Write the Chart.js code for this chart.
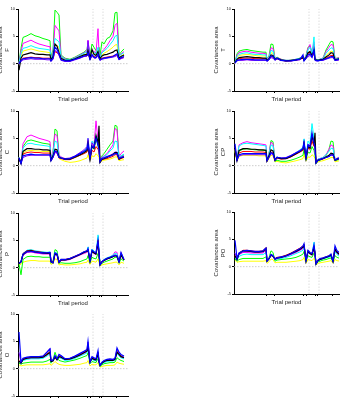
<!DOCTYPE html>
<html>
<head>
<meta charset="utf-8">
<script src="https://cdn.jsdelivr.net/npm/chart.js@4.4.0/dist/chart.umd.min.js"></script>
<style>
  html, body { margin: 0; padding: 0; background: #fff; }
  body { width: 344px; height: 399px; position: relative; overflow: hidden; }
  canvas { position: absolute; }
</style>
</head>
<body>
<script>
// shared time axis (trial period samples)
const trialX = [1,3,5,9,13,17,21,25,29,32,33,35,37,39,41,43,47,52,57,62,66,69,70,72,74,76,78,80,81,82,84,86,89,92,95,97,99,101,103,106];
const xTicks = [32,40,69,72,81,83,98];
const markerX = [75,85];
const yTicks = [-5,0,5,10];

const colorNames = ['blue','black','purple','red','cyan','magenta','green','yellow'];
const lineColors = {
  yellow: '#ffff00', green: '#00ff00', cyan: '#00ffff', magenta: '#ff00ff',
  red: '#ff0000', black: '#000000', blue: '#0000ff', purple: '#8000ff'
};

// F
const fGreen   = [0.2,2.8,4.8,5.1,5.5,5.1,4.9,4.6,4.4,4.2,1.2,2.5,9.8,9.4,8.9,1.6,1.0,0.8,1.2,1.7,2.1,2.6,3.8,1.4,3.6,3.0,2.4,2.0,3.0,1.5,4.0,3.6,4.6,4.9,6.0,9.3,9.4,1.6,2.1,2.7];
const fMagenta = [0.1,2.2,3.7,4.0,4.3,3.9,3.6,3.4,3.2,3.1,1.0,2.0,7.0,6.5,6.0,1.4,0.9,0.7,1.1,1.6,2.0,2.3,4.3,1.3,2.5,2.2,2.0,6.4,2.0,1.2,2.2,2.6,3.3,4.2,5.0,7.0,7.4,1.4,1.8,2.2];
const fCyan    = [0.1,1.8,2.8,3.0,3.3,3.0,2.8,2.7,2.6,2.5,0.9,1.8,4.6,4.3,4.0,1.3,0.8,0.7,1.0,1.5,1.9,2.1,3.5,1.2,2.3,2.0,1.8,3.0,1.8,1.1,2.0,2.3,2.8,3.5,4.2,5.0,5.2,1.3,1.7,2.0];
const fYellow  = [0.1,1.4,2.3,2.5,2.7,2.5,2.3,2.2,2.1,2.0,0.8,1.5,3.5,3.3,3.0,1.1,0.7,0.6,0.9,1.3,1.7,1.8,2.8,1.1,2.0,1.8,1.6,2.5,1.6,1.0,1.6,1.9,2.2,2.6,3.0,3.4,3.5,1.1,1.4,1.7];
const fBlack   = [-1.2,1.0,1.6,1.8,2.0,1.8,1.7,1.7,1.6,1.6,0.7,1.3,3.6,3.2,2.0,1.0,0.6,0.6,0.9,1.3,1.6,1.7,2.4,1.0,2.6,1.7,1.5,2.2,1.5,0.9,1.4,1.6,1.7,1.9,2.1,2.4,2.5,1.0,1.3,1.6];
const fRed     = [0.1,0.6,1.0,1.1,1.2,1.1,1.1,1.0,1.0,1.0,0.5,0.9,2.2,2.0,1.6,0.8,0.5,0.5,0.8,1.1,1.4,1.4,1.8,0.8,1.5,1.3,1.2,1.6,1.2,0.8,1.0,1.1,1.2,1.3,1.4,1.5,1.6,0.8,1.0,1.2];
const fBlue    = [0.0,0.6,0.9,1.0,1.1,1.0,1.0,0.9,0.9,0.9,0.5,1.0,3.0,2.6,1.8,0.7,0.5,0.5,0.8,1.1,1.4,1.5,2.0,0.8,1.7,1.2,1.1,1.8,1.1,0.7,0.9,1.0,1.1,1.2,1.3,1.6,1.8,0.8,1.1,1.3];
const fPurple  = [0.0,0.4,0.7,0.8,0.9,0.8,0.8,0.8,0.7,0.7,0.4,0.8,2.4,2.2,1.5,0.6,0.4,0.4,0.7,1.0,1.3,1.4,4.2,0.7,1.4,1.0,1.0,1.4,0.9,0.6,0.8,0.9,1.0,1.1,1.2,1.3,1.5,0.7,0.9,1.1];

// T
const tGreen   = [0.2,1.8,2.3,2.5,2.6,2.4,2.3,2.2,2.1,2.1,0.8,1.4,3.6,3.5,0.9,1.2,0.8,0.6,0.6,0.8,1.0,1.3,0.8,1.5,3.0,3.2,2.0,3.6,0.9,0.8,0.7,0.8,1.0,2.5,3.5,4.1,4.0,0.9,1.0,1.1];
const tMagenta = [0.2,1.5,2.0,2.2,2.3,2.1,2.0,1.9,1.9,1.8,0.8,1.2,2.9,2.8,0.9,1.1,0.8,0.6,0.6,0.8,1.0,1.3,0.8,1.4,2.8,3.5,1.8,4.0,0.9,0.8,0.7,0.8,1.0,2.2,3.0,3.5,3.4,0.9,1.0,1.1];
const tCyan    = [0.2,1.3,1.7,1.9,2.0,1.8,1.7,1.7,1.6,1.6,0.7,1.1,2.4,2.3,0.8,1.1,0.7,0.6,0.6,0.8,1.0,1.2,0.8,1.3,2.5,3.0,1.7,4.9,0.9,0.8,0.7,0.8,0.9,1.9,2.5,2.9,2.8,0.8,0.9,1.0];
const tYellow  = [0.2,1.1,1.5,1.6,1.7,1.6,1.5,1.4,1.4,1.4,0.7,1.0,2.0,1.9,0.8,1.0,0.7,0.5,0.6,0.7,0.9,1.1,0.7,1.2,2.0,2.2,1.5,2.6,0.8,0.7,0.6,0.7,0.8,1.5,2.0,2.3,2.2,0.8,0.9,1.0];
const tBlack   = [0.2,0.8,1.1,1.2,1.3,1.2,1.1,1.1,1.0,1.0,0.6,0.9,1.6,1.5,0.8,1.0,0.7,0.5,0.6,0.7,0.9,1.1,0.7,1.1,2.0,2.2,1.5,2.4,0.8,0.7,0.6,0.7,0.8,1.2,1.6,2.0,1.9,0.7,0.8,0.9];
const tRed     = [0.1,0.7,0.9,1.0,1.0,1.0,0.9,0.9,0.9,0.9,0.5,0.8,1.3,1.2,0.7,0.9,0.6,0.5,0.5,0.7,0.8,1.0,0.6,1.0,1.6,2.2,1.3,1.8,0.7,0.6,0.6,0.6,0.7,1.0,1.3,1.5,1.5,0.7,0.7,0.8];
const tBlue    = [0.1,0.6,0.7,0.8,0.8,0.8,0.7,0.7,0.7,0.7,0.5,0.8,1.4,1.3,0.7,1.0,0.6,0.5,0.5,0.7,0.8,1.6,0.5,1.0,1.6,1.8,1.2,2.6,0.7,0.6,0.5,0.6,0.7,0.9,1.1,1.3,1.3,0.6,0.7,0.8];
const tPurple  = [0.1,0.5,0.6,0.6,0.7,0.6,0.6,0.6,0.6,0.6,0.4,0.7,1.1,1.0,0.6,0.9,0.6,0.5,0.5,0.6,0.7,1.4,0.5,0.9,1.3,1.5,1.1,2.0,0.6,0.5,0.5,0.6,0.6,0.8,1.0,1.1,1.1,0.6,0.6,0.7];

// C
const cMagenta = [1.5,0.5,4.0,5.3,5.6,5.3,5.0,4.8,4.6,4.4,1.2,2.5,5.8,5.5,2.0,1.6,1.3,1.3,1.7,2.2,2.7,3.2,4.5,1.5,4.2,3.6,8.2,4.5,3.0,0.8,1.6,1.8,2.2,3.0,3.8,6.8,6.5,1.6,2.2,2.7];
const cGreen   = [1.5,0.5,3.5,4.5,4.7,4.5,4.3,4.1,4.0,3.9,1.2,2.5,6.7,6.4,1.8,1.5,1.2,1.2,1.5,1.9,2.3,2.6,3.5,1.3,3.5,3.0,5.0,3.6,2.5,0.7,1.8,2.2,3.0,3.8,4.5,7.4,7.2,1.4,1.8,2.0];
const cCyan    = [1.5,0.5,3.2,4.0,4.1,3.9,3.8,3.7,3.6,3.5,1.1,2.2,4.5,4.3,1.7,1.5,1.2,1.3,1.7,2.2,2.7,3.2,5.0,1.4,4.5,4.0,5.5,4.8,2.8,0.7,1.5,1.7,2.0,2.7,3.2,4.5,4.4,1.5,1.8,2.1];
const cBlack   = [1.4,0.4,2.6,3.1,3.1,3.0,3.0,2.9,2.9,2.8,1.0,1.8,3.0,2.9,1.6,1.4,1.2,1.2,1.6,2.0,2.4,2.8,4.0,1.2,3.6,3.2,5.5,4.0,7.3,0.6,1.2,1.3,1.5,1.8,2.0,2.4,2.4,1.2,1.4,1.6];
const cYellow  = [1.3,0.4,2.3,2.7,2.8,2.7,2.7,2.6,2.6,2.6,0.9,1.6,2.6,2.5,1.3,1.1,0.8,0.6,0.7,0.9,1.2,1.4,2.0,0.8,1.8,1.6,2.2,1.8,1.5,0.5,0.9,1.0,1.1,1.2,1.4,1.6,1.6,0.9,1.0,1.1];
const cRed     = [1.4,0.4,2.1,2.4,2.5,2.4,2.4,2.3,2.3,2.3,0.9,1.5,2.5,2.4,1.4,1.3,1.1,1.1,1.5,1.9,2.2,2.5,3.2,1.1,2.8,2.5,3.5,3.0,2.5,0.6,1.1,1.2,1.3,1.5,1.7,2.0,2.0,1.1,1.3,1.5];
const cBlue    = [1.4,0.4,1.8,2.0,2.1,2.0,2.0,2.0,2.0,2.0,0.9,1.6,2.7,2.5,1.5,1.4,1.2,1.3,1.7,2.2,2.6,3.0,4.0,1.3,3.6,3.3,5.0,3.8,3.0,0.7,1.3,1.4,1.6,1.8,2.0,2.2,2.2,1.3,1.5,1.6];
const cPurple  = [1.3,0.4,1.5,1.8,1.9,1.9,1.9,1.9,1.9,1.9,0.9,1.5,2.4,2.3,1.5,1.4,1.3,1.4,1.8,2.4,2.9,3.5,5.0,1.4,4.2,3.6,5.2,4.2,3.2,0.8,1.4,1.5,1.7,1.9,2.2,2.5,2.5,1.4,1.6,1.8];

// CP
const cpMagenta = [3.0,1.0,3.8,4.2,4.4,4.2,4.1,4.0,3.9,3.8,1.0,2.2,4.3,4.0,1.0,1.6,1.3,1.3,1.7,2.3,2.8,3.2,4.6,1.6,3.8,3.6,5.5,4.5,3.0,0.6,1.2,1.3,1.5,2.0,3.0,3.8,3.6,1.1,1.4,1.6];
const cpCyan    = [3.0,1.0,3.6,4.0,4.1,4.0,3.9,3.8,3.7,3.6,1.0,2.1,3.8,3.6,1.0,1.6,1.3,1.4,1.8,2.4,2.9,3.4,4.9,1.6,4.5,4.0,7.7,5.0,3.2,0.6,1.2,1.3,1.5,2.0,2.6,3.2,3.1,1.1,1.3,1.5];
const cpGreen   = [2.8,0.9,2.7,3.0,3.1,3.0,2.9,2.9,2.8,2.8,0.9,2.2,4.6,4.4,0.8,1.0,0.8,0.8,1.0,1.3,1.6,1.9,3.0,1.0,2.5,2.3,3.5,2.8,1.8,0.4,0.9,1.0,1.3,1.8,3.0,4.5,4.4,0.9,1.0,1.2];
const cpBlack   = [3.2,1.0,2.8,3.1,3.1,3.0,3.0,2.9,2.9,2.8,0.9,1.8,2.9,2.7,1.0,1.5,1.3,1.3,1.7,2.2,2.6,3.0,4.0,1.4,3.5,3.2,5.5,4.0,6.0,0.5,1.0,1.1,1.3,1.6,1.9,2.3,2.2,1.0,1.2,1.4];
const cpRed     = [3.0,0.9,2.3,2.6,2.6,2.6,2.5,2.5,2.5,2.4,0.8,1.6,2.5,2.3,0.9,1.4,1.2,1.3,1.6,2.1,2.5,2.8,3.6,1.3,3.2,3.0,4.5,3.5,3.5,0.5,1.0,1.1,1.2,1.5,1.7,2.0,2.0,1.0,1.1,1.3];
const cpYellow  = [2.6,0.8,1.7,1.9,1.9,1.9,1.9,1.8,1.8,1.8,0.7,1.3,1.9,1.8,0.7,0.8,0.6,0.5,0.7,0.9,1.1,1.3,2.0,0.8,1.6,1.5,2.0,1.7,1.3,0.4,0.7,0.8,0.9,1.1,1.3,1.5,1.5,0.7,0.8,0.9];
const cpBlue    = [4.0,1.0,2.0,2.2,2.2,2.2,2.2,2.2,2.2,2.2,0.9,1.6,2.4,2.2,1.0,1.5,1.4,1.4,1.8,2.3,2.7,3.1,4.2,1.4,3.8,3.5,6.0,4.2,3.5,0.5,1.0,1.1,1.3,1.5,1.7,2.0,2.0,1.0,1.2,1.4];
const cpPurple  = [3.5,1.0,1.8,2.0,2.0,2.0,2.0,2.0,2.0,2.0,0.9,1.5,2.2,2.0,1.0,1.5,1.4,1.5,1.9,2.4,2.8,3.2,4.4,1.5,3.9,3.6,5.0,4.0,3.0,0.6,1.1,1.2,1.3,1.5,1.7,1.9,1.9,1.1,1.2,1.4];

// P
const pCyan    = [0.8,1.2,2.6,3.2,3.3,3.1,3.0,2.9,2.8,2.9,1.2,0.9,2.8,2.6,1.0,1.5,1.4,1.6,2.0,2.4,2.8,3.0,3.8,1.2,3.4,3.0,2.5,6.0,3.0,0.6,1.2,1.5,1.8,2.0,2.3,2.6,2.5,1.2,2.7,1.5];
const pRed     = [0.7,1.1,2.6,3.1,3.2,3.0,2.9,2.8,2.7,2.8,1.2,0.9,2.6,2.5,1.0,1.5,1.5,1.7,2.1,2.5,2.9,3.1,3.3,1.3,3.1,2.8,2.6,5.0,2.7,0.5,1.1,1.4,1.7,1.9,2.1,2.3,2.2,1.1,2.4,1.4];
const pBlack   = [0.7,1.0,2.4,3.0,3.1,2.9,2.8,2.7,2.6,2.7,1.1,0.9,2.5,2.4,1.0,1.4,1.4,1.6,2.0,2.4,2.8,3.0,3.2,1.2,3.0,2.7,2.5,4.5,2.6,0.5,1.1,1.3,1.6,1.8,2.0,2.2,2.1,1.1,2.3,1.4];
const pMagenta = [0.7,1.0,2.3,2.8,2.9,2.7,2.6,2.5,2.5,2.5,1.0,0.9,2.5,2.3,0.9,1.3,1.3,1.5,1.9,2.3,2.6,2.8,3.2,1.2,2.9,2.6,2.4,4.8,2.5,0.5,1.0,1.3,1.6,1.9,2.3,2.9,2.8,1.0,2.8,1.4];
const pGreen   = [0.6,-1.3,1.5,2.0,2.1,2.0,2.0,1.9,1.9,1.9,0.8,1.2,3.3,3.1,0.8,0.9,0.8,0.8,0.9,1.1,1.4,1.6,2.2,0.9,1.9,1.7,1.6,2.6,1.5,0.4,0.8,1.0,1.2,1.4,1.6,1.9,1.9,0.8,1.6,1.2];
const pYellow  = [0.5,0.6,1.0,1.2,1.3,1.3,1.2,1.2,1.2,1.2,0.6,0.8,1.6,1.5,0.5,0.6,0.5,0.5,0.6,0.7,0.9,1.0,1.4,0.6,1.2,1.1,1.0,1.6,1.0,0.3,0.5,0.6,0.7,0.8,0.9,1.0,1.0,0.5,1.0,0.8];
const pBlue    = [0.8,1.1,2.5,3.0,3.0,2.9,2.8,2.7,2.7,2.8,1.1,0.9,2.7,2.5,1.0,1.5,1.5,1.7,2.1,2.5,2.9,3.1,3.5,1.3,3.2,2.9,2.7,5.0,2.8,0.5,1.1,1.4,1.7,1.9,2.1,2.3,2.2,1.1,2.8,1.5];
const pPurple  = [0.7,1.0,2.3,2.8,2.9,2.8,2.7,2.6,2.6,2.6,1.0,0.9,2.5,2.4,1.0,1.4,1.4,1.6,2.0,2.4,2.8,3.0,3.3,1.2,3.0,2.7,2.5,4.6,2.6,0.5,1.0,1.3,1.6,1.8,2.0,2.2,2.1,1.0,2.5,1.4];

// PO
const poBlue    = [4.8,1.5,2.5,2.9,3.0,2.9,2.8,2.8,2.9,3.4,1.0,1.5,2.2,2.0,1.4,1.6,1.8,2.0,2.4,2.9,3.3,3.8,4.2,1.1,3.0,2.6,2.4,4.0,2.6,0.5,1.2,1.5,1.6,1.8,2.0,2.3,1.0,3.8,2.9,2.5];
const poRed     = [2.0,1.4,2.5,3.0,3.0,2.9,2.8,2.8,2.9,3.5,1.1,1.5,2.2,2.0,1.5,1.7,1.8,2.1,2.5,3.0,3.4,3.8,4.0,1.2,2.9,2.5,2.3,3.6,2.5,0.5,1.2,1.4,1.6,1.8,2.0,2.2,1.0,3.3,2.7,2.3];
const poBlack   = [2.0,1.3,2.4,2.9,2.9,2.8,2.7,2.7,2.8,3.3,1.0,1.4,2.1,1.9,1.4,1.6,1.7,2.0,2.4,2.8,3.2,3.6,3.9,1.1,2.8,2.4,2.2,3.5,2.4,0.5,1.1,1.3,1.5,1.7,1.9,2.1,1.0,3.2,2.6,2.2];
const poMagenta = [1.8,1.2,2.2,2.6,2.6,2.5,2.5,2.5,2.5,3.0,1.0,1.4,2.2,2.0,1.3,1.5,1.6,1.9,2.2,2.6,3.0,3.3,3.7,1.0,2.6,2.3,2.1,3.5,2.2,0.5,1.1,1.3,1.5,1.7,1.9,2.0,0.9,3.0,2.4,2.0];
const poCyan    = [1.6,1.2,1.9,2.2,2.3,2.2,2.2,2.2,2.2,2.6,1.0,1.5,2.3,2.1,1.2,1.4,1.5,1.7,2.0,2.4,2.7,3.0,3.4,1.0,2.6,2.4,2.2,4.5,2.3,0.5,1.0,1.2,1.4,1.6,1.7,1.9,0.9,2.7,2.2,1.8];
const poGreen   = [1.4,1.0,1.3,1.5,1.5,1.5,1.5,1.5,1.5,1.8,0.9,1.6,2.9,2.6,1.0,1.2,1.3,1.4,1.5,1.7,2.0,2.3,2.8,0.9,2.0,1.8,1.7,2.5,1.7,0.4,0.9,1.0,1.2,1.3,1.5,1.6,0.8,2.0,1.7,1.5];
const poYellow  = [1.2,0.8,0.9,1.0,1.0,1.0,1.0,1.0,1.0,1.1,0.6,0.9,1.4,1.3,0.7,0.8,0.8,0.8,0.9,1.0,1.1,1.3,1.7,0.6,1.3,1.2,1.1,1.5,1.1,0.3,0.6,0.7,0.8,0.9,1.0,1.1,0.6,1.3,1.1,1.0];
const poPurple  = [2.5,1.3,2.3,2.7,2.8,2.7,2.6,2.6,2.7,3.1,1.0,1.4,2.1,1.9,1.3,1.5,1.7,1.9,2.3,2.7,3.1,3.5,3.8,1.1,2.7,2.4,2.2,3.6,2.3,0.5,1.1,1.3,1.5,1.7,1.9,2.1,0.9,3.1,2.5,2.1];

// O
const oBlue    = [6.7,1.2,1.9,2.1,2.2,2.2,2.2,2.3,3.0,3.6,1.5,1.6,2.4,1.8,2.6,2.4,1.8,1.9,2.3,2.8,3.2,3.5,5.0,1.2,2.2,2.0,1.8,3.3,1.5,0.6,1.2,1.5,1.7,1.8,1.7,1.9,3.8,3.0,2.6,2.3];
const oRed     = [1.5,1.1,1.8,2.0,2.1,2.1,2.1,2.2,2.7,3.1,1.4,1.5,2.2,1.7,2.3,2.2,1.7,1.8,2.2,2.6,3.0,3.3,4.2,1.3,2.0,1.8,1.7,2.8,1.4,0.6,1.1,1.4,1.6,1.6,1.6,1.8,3.2,2.7,2.3,2.0];
const oBlack   = [1.4,1.0,1.7,1.9,2.0,2.0,2.0,2.1,2.6,3.0,1.3,1.4,2.1,1.6,2.2,2.1,1.7,1.8,2.1,2.5,2.9,3.2,4.0,1.2,1.9,1.7,1.6,2.7,1.3,0.6,1.0,1.3,1.5,1.5,1.5,1.7,3.0,2.6,2.2,2.0];
const oMagenta = [1.4,1.0,1.6,1.8,1.9,1.9,1.9,2.0,2.5,2.9,1.3,1.4,2.2,1.7,2.1,2.0,1.6,1.7,2.0,2.4,2.8,3.1,3.9,1.1,1.8,1.6,1.5,2.6,1.3,0.5,1.0,1.2,1.4,1.5,1.5,1.6,2.9,2.4,2.1,1.9];
const oCyan    = [1.3,1.0,1.5,1.7,1.8,1.8,1.8,1.9,2.3,2.7,1.2,1.4,2.3,1.7,2.0,1.9,1.5,1.6,1.9,2.3,2.6,2.9,3.7,1.1,1.7,1.5,1.4,2.5,1.2,0.5,0.9,1.1,1.3,1.4,1.4,1.6,2.8,2.3,2.0,1.8];
const oGreen   = [1.0,0.8,1.0,1.1,1.2,1.2,1.2,1.2,1.4,1.7,1.0,1.6,3.0,2.0,1.5,1.4,1.2,1.4,1.6,1.9,2.2,2.4,2.9,0.9,1.3,1.2,1.1,1.9,1.0,0.4,0.7,0.9,1.0,1.1,1.1,1.2,2.0,1.7,1.5,1.3];
const oYellow  = [0.7,0.5,0.6,0.7,0.7,0.7,0.7,0.7,0.8,0.9,0.6,0.9,1.3,1.0,0.8,0.7,0.6,0.6,0.7,0.8,1.0,1.1,1.5,0.5,0.8,0.7,0.7,1.1,0.6,0.3,0.4,0.5,0.6,0.6,0.6,0.7,1.2,1.0,0.9,0.8];
const oPurple  = [3.0,1.1,1.8,2.0,2.1,2.1,2.2,2.3,3.1,3.7,1.4,1.5,2.3,1.8,2.5,2.3,1.8,1.9,2.3,2.7,3.1,3.5,4.9,1.2,2.1,1.9,1.7,3.0,1.4,0.6,1.1,1.4,1.6,1.7,1.6,1.8,3.6,2.8,2.4,2.1];

const panels = [
  { name: 'F',  col: 0, top: 9,   s: { yellow: fYellow, green: fGreen, cyan: fCyan, magenta: fMagenta, red: fRed, black: fBlack, blue: fBlue, purple: fPurple } },
  { name: 'T',  col: 1, top: 9,   s: { yellow: tYellow, green: tGreen, cyan: tCyan, magenta: tMagenta, red: tRed, black: tBlack, blue: tBlue, purple: tPurple } },
  { name: 'C',  col: 0, top: 111, s: { yellow: cYellow, green: cGreen, cyan: cCyan, magenta: cMagenta, red: cRed, black: cBlack, blue: cBlue, purple: cPurple } },
  { name: 'CP', col: 1, top: 111, s: { yellow: cpYellow, green: cpGreen, cyan: cpCyan, magenta: cpMagenta, red: cpRed, black: cpBlack, blue: cpBlue, purple: cpPurple } },
  { name: 'P',  col: 0, top: 213, s: { yellow: pYellow, green: pGreen, cyan: pCyan, magenta: pMagenta, red: pRed, black: pBlack, blue: pBlue, purple: pPurple } },
  { name: 'PO', col: 1, top: 212, s: { yellow: poYellow, green: poGreen, cyan: poCyan, magenta: poMagenta, red: poRed, black: poBlack, blue: poBlue, purple: poPurple } },
  { name: 'O',  col: 0, top: 314, s: { yellow: oYellow, green: oGreen, cyan: oCyan, magenta: oMagenta, red: oRed, black: oBlack, blue: oBlue, purple: oPurple } }
];

const font = 'Liberation Sans, Arial, Helvetica, sans-serif';
const Y_AXIS_W = 21, X_AXIS_H = 12, PAD_TOP = 4, PLOT_H = 82;

panels.forEach(p => {
  const xMax = p.col === 0 ? 110 : 105;
  const left = p.col === 0 ? -3 : 213;
  const width = Y_AXIS_W + xMax + 2;
  const height = PAD_TOP + PLOT_H + X_AXIS_H;

  const cv = document.createElement('canvas');
  cv.width = width; cv.height = height;
  cv.style.left = left + 'px';
  cv.style.top = (p.top - PAD_TOP) + 'px';
  cv.style.width = width + 'px';
  cv.style.height = height + 'px';
  document.body.appendChild(cv);

  const datasets = colorNames.map(c => ({
    data: trialX.map((x, i) => ({ x, y: p.s[c][i] })),
    borderColor: lineColors[c],
    borderWidth: (c === 'blue' || c === 'black') ? 1.2 : 1
  }));
  // zero reference and event markers
  datasets.push({
    data: [{ x: 0, y: 0 }, { x: xMax, y: 0 }],
    borderColor: '#c0c0c0', borderWidth: 0.8, borderDash: [1.5, 1.5]
  });
  markerX.forEach(mx => datasets.push({
    data: [{ x: mx, y: -5 }, { x: mx, y: 10 }],
    borderColor: '#d4d4d4', borderWidth: 0.8, borderDash: [1.5, 1.5]
  }));

  new Chart(cv, {
    type: 'line',
    data: { datasets },
    options: {
      responsive: false,
      animation: false,
      devicePixelRatio: 1,
      layout: { padding: { top: PAD_TOP, right: 2, left: 0, bottom: 0 } },
      plugins: { legend: { display: false }, tooltip: { enabled: false } },
      elements: { point: { radius: 0 }, line: { tension: 0 } },
      scales: {
        x: {
          type: 'linear', min: 0, max: xMax,
          afterBuildTicks: s => { s.ticks = xTicks.map(v => ({ value: v })); },
          afterFit: s => { s.height = X_AXIS_H; },
          ticks: { display: false },
          grid: { drawOnChartArea: false, tickLength: 2, color: '#000' },
          border: { color: '#000' },
          title: { display: true, text: 'Trial period', font: { family: font, size: 6 }, color: '#222', padding: 0 }
        },
        y: {
          type: 'linear', min: -5, max: 10,
          afterBuildTicks: s => { s.ticks = yTicks.map(v => ({ value: v })); },
          afterFit: s => { s.width = Y_AXIS_W; },
          ticks: { font: { family: font, size: 4 }, color: '#222', padding: 1 },
          grid: { drawOnChartArea: false, tickLength: 2, color: '#000' },
          border: { color: '#000' },
          title: { display: true, text: ['Covariances area', p.name], font: { family: font, size: 6, lineHeight: 1.15 }, color: '#222', padding: 0 }
        }
      }
    }
  });
});
</script>
</body>
</html>
